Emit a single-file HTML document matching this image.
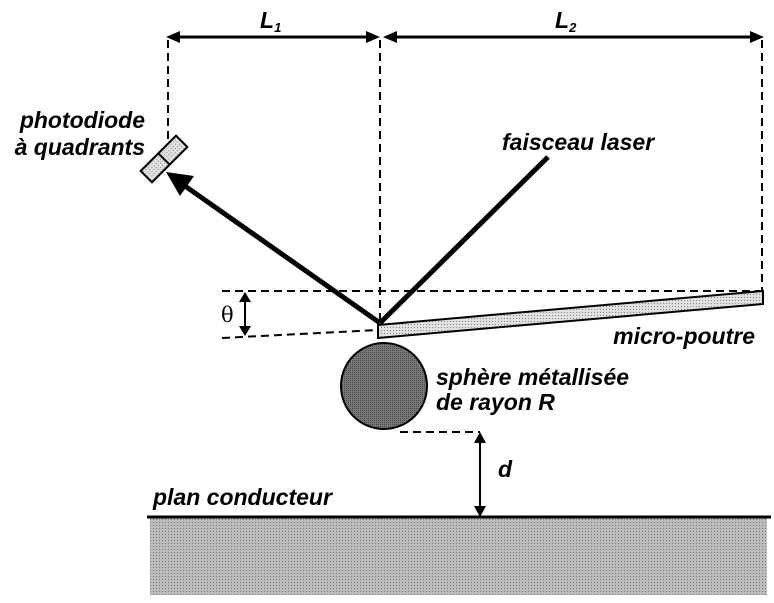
<!DOCTYPE html>
<html><head><meta charset="utf-8"><style>
html,body{margin:0;padding:0;background:#fff;}
svg{display:block;}
text{font-family:"Liberation Sans",sans-serif;font-style:italic;font-weight:bold;fill:#000;}
</style></head><body>
<svg width="774" height="603" viewBox="0 0 774 603" xmlns="http://www.w3.org/2000/svg">
<defs>
<pattern id="dots" width="3" height="3" patternUnits="userSpaceOnUse">
<rect width="3" height="3" fill="#bcbcbc"/><rect width="1" height="1" fill="#777"/></pattern>
<pattern id="dots2" width="3" height="3" patternUnits="userSpaceOnUse">
<rect width="3" height="3" fill="#e0e0e0"/><rect width="1" height="1" fill="#888"/></pattern>
<pattern id="dots3" width="2" height="2" patternUnits="userSpaceOnUse">
<rect width="2" height="2" fill="#7a7a7a"/><rect width="1" height="1" fill="#444"/></pattern>
</defs>
<g stroke="#000" stroke-width="2" stroke-dasharray="8,5" fill="none">
<line x1="168" y1="40" x2="168" y2="150"/>
<line x1="380" y1="40" x2="380" y2="322"/>
<line x1="762" y1="40" x2="762" y2="291"/>
<line x1="222" y1="291" x2="760" y2="291"/>
<line x1="222" y1="338" x2="378" y2="330"/>
<line x1="400" y1="432" x2="480" y2="432"/>
</g>
<g stroke="#000" stroke-width="3">
<line x1="176" y1="37" x2="372" y2="37"/>
<line x1="391" y1="37" x2="754" y2="37"/>
</g>
<g fill="#000">
<polygon points="166,37 180,31 180,43"/>
<polygon points="380,37 366,31 366,43"/>
<polygon points="383,37 397,31 397,43"/>
<polygon points="764,37 750,31 750,43"/>
</g>
<text x="260" y="28" font-size="23">L<tspan font-size="13" dy="4">1</tspan></text>
<text x="555" y="28" font-size="23">L<tspan font-size="13" dy="4">2</tspan></text>
<g transform="translate(164,159) rotate(-45)">
<rect x="-25" y="-8" width="50" height="16" fill="url(#dots2)" stroke="#000" stroke-width="2"/>
<line x1="0" y1="-8" x2="0" y2="8" stroke="#000" stroke-width="2"/>
</g>
<text x="145" y="128" font-size="23" text-anchor="end">photodiode</text>
<text x="145" y="155" font-size="23" text-anchor="end">à quadrants</text>
<line x1="380" y1="323" x2="185" y2="186" stroke="#000" stroke-width="5"/>
<polygon points="166,172 194,176 180,196" fill="#000"/>
<line x1="380" y1="323" x2="548" y2="157" stroke="#000" stroke-width="5"/>
<text x="502" y="150" font-size="23">faisceau laser</text>
<polygon points="378,325 763,291 763,304 378,338" fill="url(#dots2)" stroke="#000" stroke-width="2"/>
<text x="755" y="344" font-size="23" text-anchor="end">micro-poutre</text>
<line x1="245" y1="298" x2="245" y2="330" stroke="#000" stroke-width="2"/>
<polygon points="245,292 239,302 251,302" fill="#000"/>
<polygon points="245,336 239,326 251,326" fill="#000"/>
<text x="221" y="322" font-size="21" style="font-style:normal;font-weight:normal;font-family:'DejaVu Serif',serif">θ</text>
<circle cx="384" cy="386" r="43" fill="url(#dots3)" stroke="#000" stroke-width="2"/>
<text x="436" y="385" font-size="23">sphère métallisée</text>
<text x="436" y="410" font-size="23">de rayon R</text>
<line x1="480" y1="440" x2="480" y2="509" stroke="#000" stroke-width="2"/>
<polygon points="480,432 474,443 486,443" fill="#000"/>
<polygon points="480,517 474,506 486,506" fill="#000"/>
<text x="498" y="477" font-size="23">d</text>
<text x="153" y="505" font-size="23">plan conducteur</text>
<rect x="150" y="518" width="617" height="77" fill="url(#dots)"/>
<line x1="147" y1="517" x2="771" y2="517" stroke="#000" stroke-width="3"/>
</svg>
</body></html>
